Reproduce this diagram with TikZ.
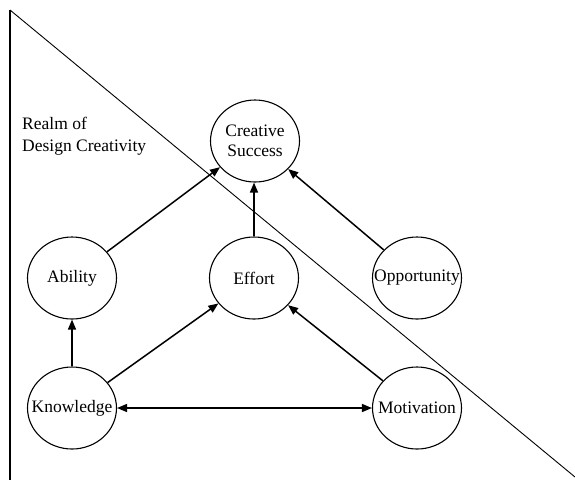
\documentclass[tikz,border=0pt]{standalone}
\usepackage{fontspec}
\setmainfont{Liberation Serif}
\usetikzlibrary{shapes.geometric,arrows.meta}
\begin{document}
\begin{tikzpicture}[x=1pt,y=-1pt,
  bub/.style={draw,ellipse,line width=1.1pt,minimum width=89pt,minimum height=82pt,inner sep=0pt,
    label={[lbl]center:#1}},
  lbl/.style={font=\fontsize{17.5}{20}\selectfont,align=center,inner sep=0pt},
  arr/.style={line width=1.5pt,-{Triangle[length=10pt,width=8pt]}},
  darr/.style={line width=1.5pt,{Triangle[length=10pt,width=8pt]}-{Triangle[length=10pt,width=8pt]}}]
\useasboundingbox (0,0) rectangle (575,480);
\coordinate (top) at (10,10);
\coordinate (bot) at (10,480);
\coordinate (diagend) at (575,477);
\draw[line width=1.4pt] (top) -- (bot);
\draw[line width=0.9pt] (top) -- (diagend);
\node[anchor=north west,align=left,font=\fontsize{17.5}{22}\selectfont,inner sep=0pt] (realm) at (22,117) {Realm of\\Design Creativity};
\node[bub={Creative\\Success}] (cs) at (255,141) {};
\node[bub=Ability] (ab) at (72,278) {};
\node[bub=Effort] (ef) at (254,278) {};
\node[bub=Opportunity] (op) at (417,278) {};
\node[bub=Knowledge] (kn) at (72,408) {};
\node[bub=Motivation] (mo) at (417,408) {};
\draw[arr] (ab) -- (cs);
\draw[arr] (ef) -- (ef|-cs.south);
\draw[arr] (op) -- (cs);
\draw[arr] (kn) -- (ab);
\draw[arr] (kn) -- (ef);
\draw[arr] (mo) -- (ef);
\draw[darr] (kn) -- (mo);
\end{tikzpicture}
\end{document}
